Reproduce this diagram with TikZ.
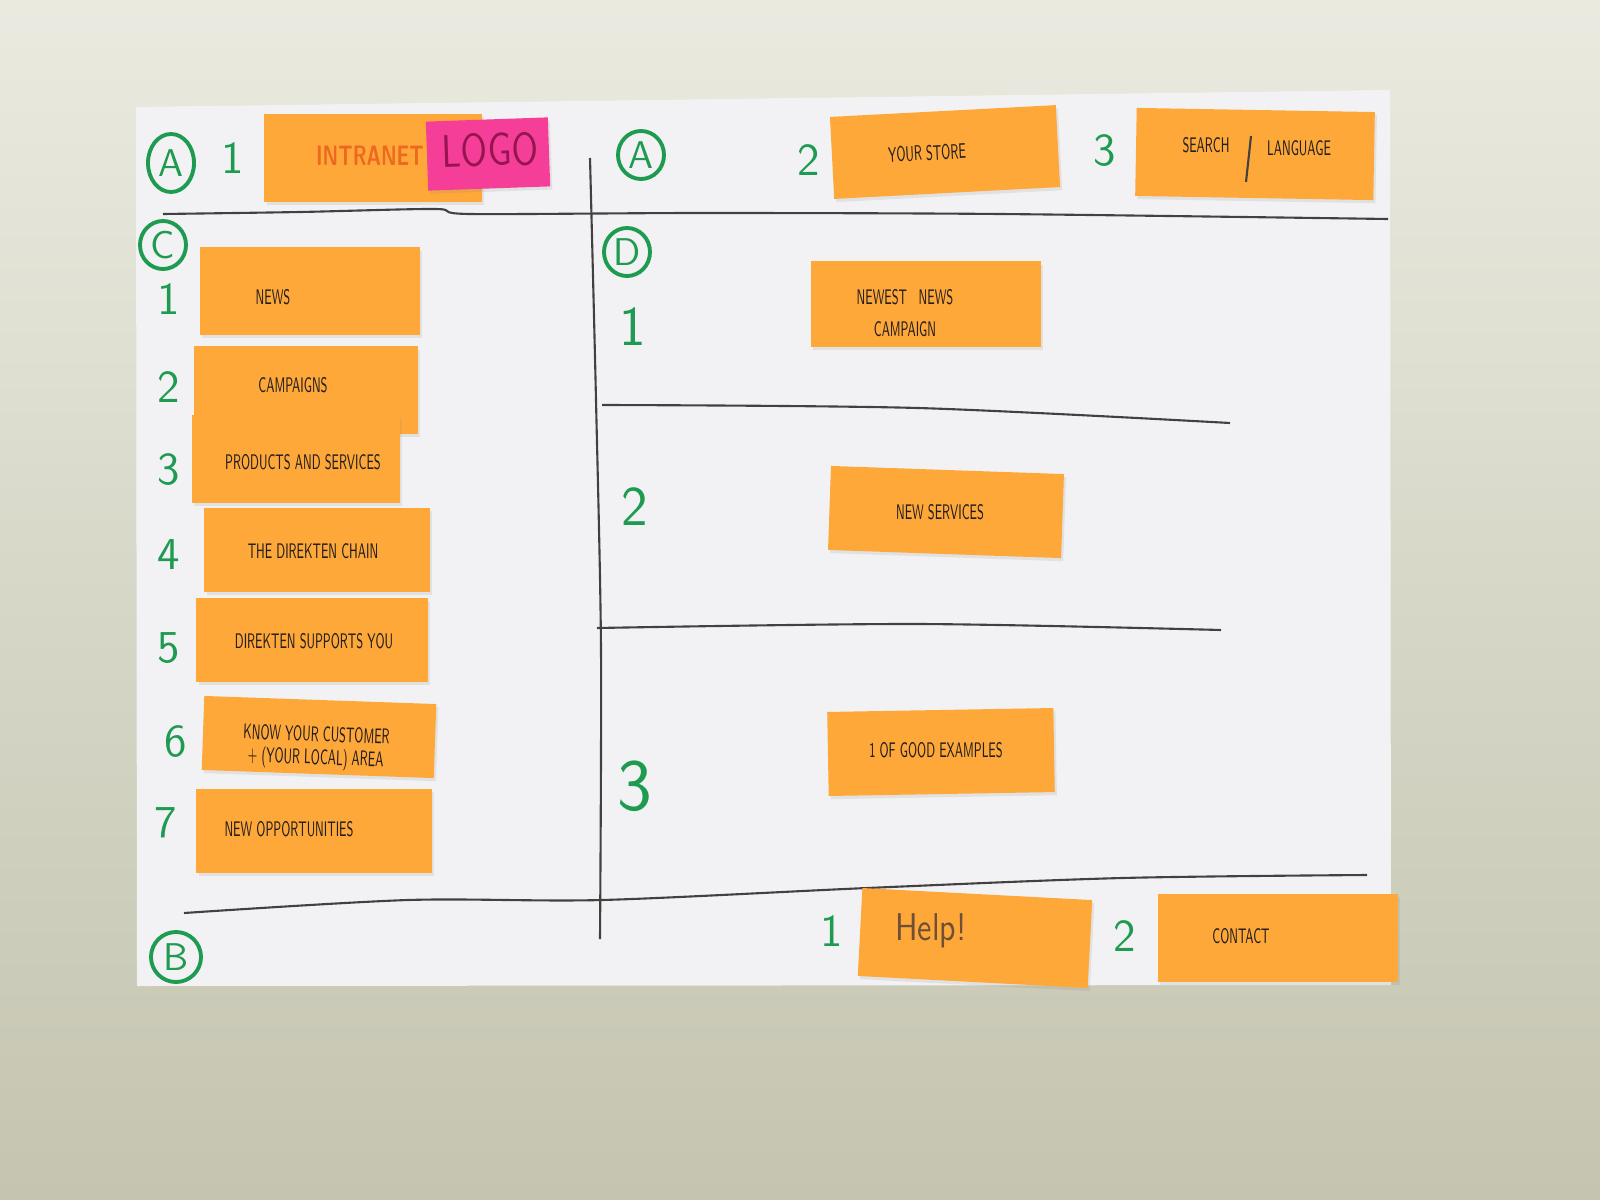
\documentclass[tikz,border=0pt]{standalone}
\usepackage{tikz}
\usetikzlibrary{shapes.geometric, shadows}
\usepackage{xcolor}

\definecolor{wallTop}{RGB}{234,234,224}
\definecolor{wallBottom}{RGB}{196,196,176}
\definecolor{paper}{RGB}{242,242,244}
\definecolor{stickyOrange}{RGB}{255,168,58}
\definecolor{stickyPink}{RGB}{245,62,152}
\definecolor{markerGreen}{RGB}{30,155,80}
\definecolor{penInk}{RGB}{35,30,30}
\definecolor{intranetInk}{RGB}{238,104,32}
\definecolor{logoInk}{RGB}{150,20,80}
\definecolor{helpInk}{RGB}{110,80,55}

\newcommand{\squeeze}[1]{\scalebox{0.55}[1]{#1}}

\begin{document}
\begin{tikzpicture}[
    x=0.01cm, y=-0.01cm,
    sticky/.style={fill=stickyOrange, inner sep=0pt, drop shadow={opacity=0.15, shadow xshift=0.6pt, shadow yshift=-0.9pt}},
    penText/.style={font=\sffamily\fontsize{6}{6.5}\selectfont, text=penInk, inner sep=0pt, align=center},
    greenNum/.style={font=\sffamily\fontsize{13}{14}\selectfont, text=markerGreen, inner sep=0pt},
    zoneMark/.style={ellipse, draw=markerGreen, line width=1.1pt, text=markerGreen, font=\sffamily\fontsize{11}{12}\selectfont, inner sep=0pt, minimum width=0.46cm, minimum height=0.48cm},
    penLine/.style={draw=penInk!85, line width=0.6pt}
]
    \useasboundingbox (0,0) rectangle (1600,1200);

    % Wall and sheet
    \shade[top color=wallTop, bottom color=wallBottom] (0,0) rectangle (1600,1200);
    \fill[paper] (136,107) -- (1390,90) -- (1391,985) -- (137,986) -- cycle;

    % Pen lines
    \draw[penLine] plot[smooth] coordinates {(163,214) (300,212) (435,209) (470,214) (700,213) (1000,214) (1388,219)};
    \draw[penLine] plot[smooth] coordinates {(590,158) (596,400) (601,650) (600,939)};
    \draw[penLine] plot[smooth] coordinates {(184,913) (408,900) (602,900) (867,888) (1122,878) (1367,875)};
    \draw[penLine] plot[smooth] coordinates {(602,405) (918,408) (1230,423)};
    \draw[penLine] plot[smooth] coordinates {(597,628) (918,624) (1221,630)};

    % Zone marks
    \node[zoneMark, minimum height=0.58cm] (zoneA) at (171,163) {A};
    \node[zoneMark] (zoneA2) at (641,155) {A};
    \node[zoneMark] (zoneC) at (163,245) {C};
    \node[zoneMark] (zoneD) at (627,252) {D};
    \node[zoneMark, minimum width=0.5cm, minimum height=0.5cm] (zoneB) at (176,957) {B};

    % Header (A)
    \node[greenNum] (hOne) at (233,158) {1};
    \node[greenNum] (hTwo) at (809,160) {2};
    \node[greenNum] (hThree) at (1105,151) {3};

    \node[sticky, minimum width=2.17cm, minimum height=0.88cm] (intranet) at (373,158) {};
    \node[font=\sffamily\bfseries\fontsize{8}{9}\selectfont, text=intranetInk, inner sep=0pt] (intranetText) at (370,156) {\scalebox{0.7}[1]{INTRANET}};
    \node[sticky, fill=stickyPink, minimum width=1.22cm, minimum height=0.69cm, rotate=2] (logo) at (488,154) {};
    \node[font=\sffamily\fontsize{13}{14}\selectfont, text=logoInk, inner sep=0pt, rotate=2] (logoText) at (490,150) {\scalebox{0.8}[1]{LOGO}};

    \node[sticky, minimum width=2.26cm, minimum height=0.82cm, rotate=3] (store) at (945,152) {};
    \node[penText, rotate=3] (storeText) at (927,153) {\squeeze{YOUR STORE}};

    \node[sticky, minimum width=2.38cm, minimum height=0.88cm, rotate=-1] (search) at (1255,154) {};
    \node[penText] (searchText) at (1206,145) {\squeeze{SEARCH}};
    \node[penText] (langText) at (1299,148) {\squeeze{LANGUAGE}};
    \draw[penLine] (1251,136) -- (1246,182);

    % Left menu (C)
    \node[greenNum] (cOne) at (169,299) {1};
    \node[greenNum] (cTwo) at (169,387) {2};
    \node[greenNum] (cThree) at (169,470) {3};
    \node[greenNum] (cFour) at (169,555) {4};
    \node[greenNum] (cFive) at (169,648) {5};
    \node[greenNum] (cSix) at (176,742) {6};
    \node[greenNum] (cSeven) at (166,823) {7};

    \node[sticky, minimum width=2.2cm, minimum height=0.87cm] (news) at (310,291) {};
    \node[penText] (newsText) at (273,297) {\squeeze{NEWS}};
    \node[sticky, minimum width=2.24cm, minimum height=0.87cm] (campaigns) at (306,390) {};
    \node[penText] (campaignsText) at (293,385) {\squeeze{CAMPAIGNS}};
    \node[sticky, minimum width=2.08cm, minimum height=0.87cm] (products) at (296,459) {};
    \node[penText] (productsText) at (303,462) {\squeeze{PRODUCTS AND SERVICES}};
    \node[sticky, minimum width=2.25cm, minimum height=0.84cm] (chain) at (317,550) {};
    \node[penText] (chainText) at (313,551) {\squeeze{THE DIREKTEN CHAIN}};
    \node[sticky, minimum width=2.31cm, minimum height=0.84cm] (supports) at (312,640) {};
    \node[penText] (supportsText) at (314,641) {\squeeze{DIREKTEN SUPPORTS YOU}};
    \node[sticky, minimum width=2.32cm, minimum height=0.74cm, rotate=-2] (customer) at (319,737) {};
    \node[penText, rotate=-2] (customerText) at (316,748) {\squeeze{KNOW YOUR CUSTOMER}\\\squeeze{+ (YOUR LOCAL) AREA}};
    \node[sticky, minimum width=2.35cm, minimum height=0.84cm] (opportunities) at (314,831) {};
    \node[penText] (opportunitiesText) at (289,829) {\squeeze{NEW OPPORTUNITIES}};

    % Main area (D)
    \node[greenNum, font=\sffamily\fontsize{16}{17}\selectfont] (dOne) at (633,327) {1};
    \node[greenNum, font=\sffamily\fontsize{16}{17}\selectfont] (dTwo) at (635,507) {2};
    \node[greenNum, font=\sffamily\fontsize{21}{22}\selectfont] (dThree) at (635,786) {3};

    \node[sticky, minimum width=2.3cm, minimum height=0.85cm] (newest) at (926,304) {};
    \node[penText, font=\sffamily\fontsize{6}{9}\selectfont] (newestText) at (905,313) {\squeeze{NEWEST\quad NEWS}\\\squeeze{CAMPAIGN}};
    \node[sticky, minimum width=2.33cm, minimum height=0.84cm, rotate=-2] (services) at (946,512) {};
    \node[penText] (servicesText) at (940,512) {\squeeze{NEW SERVICES}};
    \node[sticky, minimum width=2.26cm, minimum height=0.84cm, rotate=1] (examples) at (941,752) {};
    \node[penText] (examplesText) at (936,750) {\squeeze{1 OF GOOD EXAMPLES}};

    % Footer (B)
    \node[greenNum] (bOne) at (832,931) {1};
    \node[greenNum] (bTwo) at (1125,936) {2};

    \node[sticky, minimum width=2.3cm, minimum height=0.88cm, rotate=-3] (help) at (975,938) {};
    \node[font=\sffamily\fontsize{11}{12}\selectfont, text=helpInk, inner sep=0pt] (helpText) at (931,931) {\scalebox{0.85}[1]{Help!}};
    \node[sticky, minimum width=2.4cm, minimum height=0.88cm] (contact) at (1278,938) {};
    \node[penText] (contactText) at (1241,936) {\squeeze{CONTACT}};
\end{tikzpicture}
\end{document}
